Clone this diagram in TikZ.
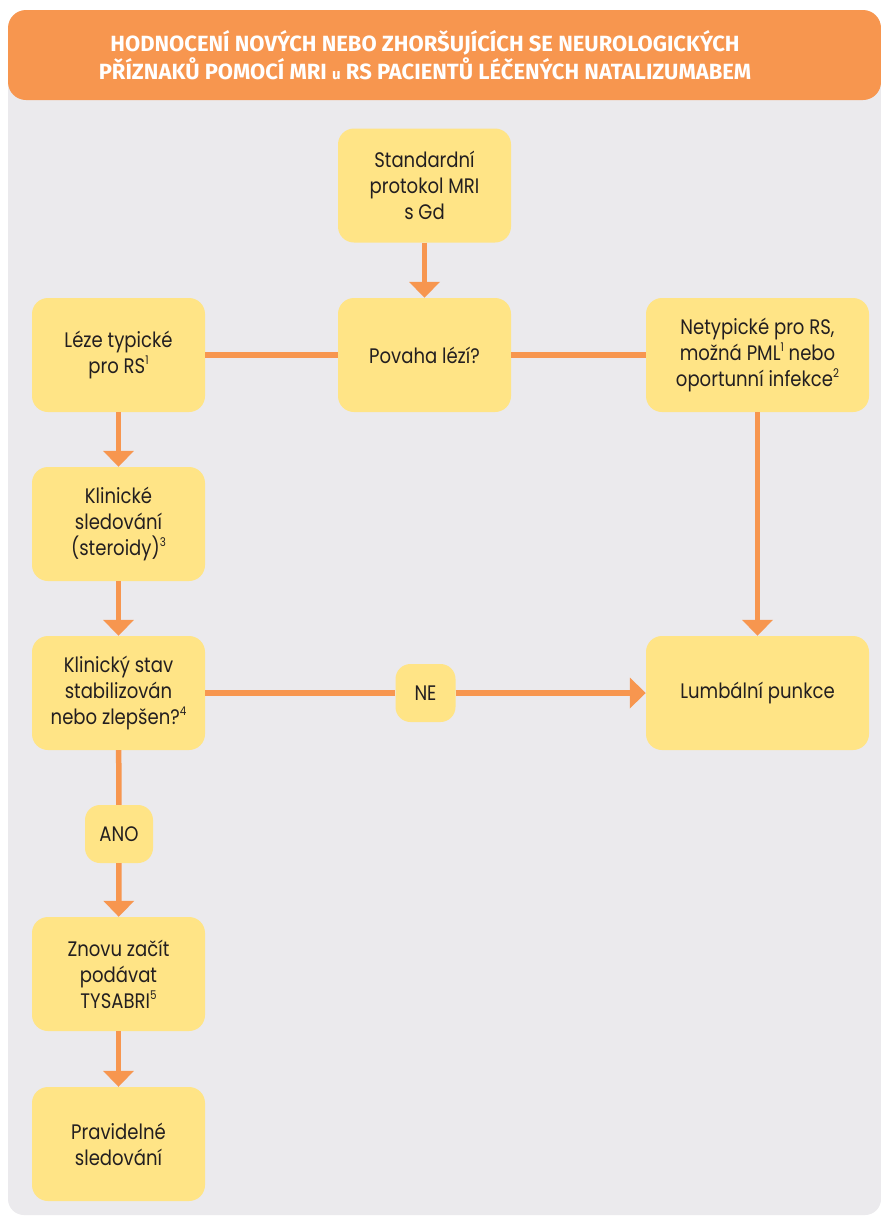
\documentclass[tikz,border=0pt]{standalone}
\usepackage{fontspec}
\setmainfont{Poppins}[FakeStretch=0.86]
\newfontfamily\headfont{Fira Sans}
\usetikzlibrary{arrows.meta}
\definecolor{bggray}{HTML}{EBEAED}
\definecolor{boxy}{HTML}{FFE486}
\definecolor{orng}{HTML}{F7964F}
\definecolor{txt}{HTML}{231F20}
\newcommand{\supn}[1]{\raisebox{0.42em}{\fontsize{12pt}{12pt}\selectfont #1}}
\tikzset{
  box/.style={fill=boxy, rounded corners=16pt, minimum width=173pt, minimum height=114pt,
    align=center, text=txt, inner sep=0pt, font=\fontsize{21pt}{26pt}\selectfont},
  widebox/.style={box, minimum width=223pt},
  lab/.style={box, minimum width=60pt, minimum height=58pt, rounded corners=15pt},
  conn/.style={draw=orng, line width=5.5pt},
  arr/.style={conn, -{Triangle[width=30pt,length=16pt]}},
}
\begin{document}
\begin{tikzpicture}[x=1pt,y=-1pt]
\useasboundingbox (0,0) rectangle (881,1216);
\clip (0,0) rectangle (881,1216);
\fill[white] (0,0) rectangle (881,1216);
\fill[bggray, rounded corners=16pt] (8,60) rectangle (881,1215);
\fill[orng, rounded corners=18pt] (8,10) rectangle (881,100);
\node[text=white, align=center, inner sep=0pt, font=\headfont\bfseries\fontsize{22pt}{28pt}\selectfont] (title) at (425,55)
  {HODNOCENÍ NOVÝCH NEBO ZHORŠUJÍCÍCH SE NEUROLOGICKÝCH\\PŘÍZNAKŮ POMOCÍ MRI {\fontsize{15pt}{15pt}\selectfont u} RS PACIENTŮ LÉČENÝCH NATALIZUMABEM};

\node[box] (std) at (424.5,185.5) {Standardní\\protokol MRI\\s Gd};
\node[box] (pov) at (424.5,355) {Povaha lézí?};
\node[box] (leze) at (118.5,355) {Léze typické\\pro RS\supn{1}};
\node[widebox] (net) at (757.5,355) {Netypické pro RS,\\možná PML\supn{1} nebo\\oportunní infekce\supn{2}};
\node[box] (klin) at (118.5,524) {Klinické\\sledování\\(steroidy)\supn{3}};
\node[box] (stav) at (118.5,693) {Klinický stav\\stabilizován\\nebo zlepšen?\supn{4}};
\node[widebox] (lumb) at (757.5,693) {Lumbální punkce};
\node[lab] (ne) at (425.5,693) {NE};
\node[lab, minimum width=68pt] (ano) at (119,834) {ANO};
\node[box] (znovu) at (118.5,974) {Znovu začít\\podávat\\TYSABRI\supn{5}};
\node[box] (prav) at (118.5,1144) {Pravidelné\\sledování};

\draw[arr] (std) -- (pov);
\draw[conn] (pov) -- (leze);
\draw[conn] (pov) -- (net);
\draw[arr] (net) -- (lumb);
\draw[arr] (leze) -- (klin);
\draw[arr] (klin) -- (stav);
\draw[conn] (stav) -- (ne);
\draw[arr] (ne) -- (lumb);
\draw[conn] (stav) -- (ano);
\draw[arr] (ano) -- (znovu);
\draw[arr] (znovu) -- (prav);
\end{tikzpicture}
\end{document}
